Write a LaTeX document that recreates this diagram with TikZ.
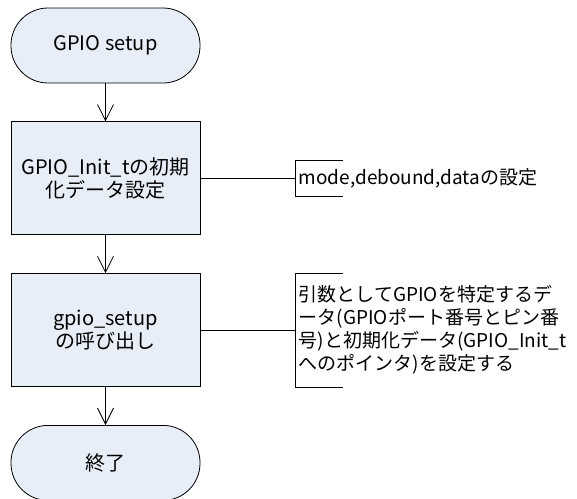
\documentclass[tikz,border=0pt]{standalone}
\usepackage{fontspec}
\setmainfont{Noto Sans CJK JP}
\usetikzlibrary{positioning,arrows.meta}
\definecolor{boxfill}{RGB}{232,238,247}
\tikzset{
  every picture/.style={
    line width=0.8pt
  },
  terminal/.style={draw, fill=boxfill, rounded corners=37pt, minimum width=189pt,
    minimum height=75pt, align=center, font=\fontsize{20}{23}\selectfont},
  process/.style={draw, fill=boxfill, minimum width=189pt, minimum height=113pt,
    align=center, font=\fontsize{20}{23}\selectfont},
  note/.style={align=left, inner xsep=3pt, font=\fontsize{19}{23}\selectfont},
  flow/.style={-{Straight Barb[length=16pt,width=16pt]}}
}
\begin{document}
\begin{tikzpicture}
  \useasboundingbox (0,0) rectangle (577pt,-498pt);
  \node[terminal] (setup) at (105.5pt,-45.5pt) {GPIO setup};
  \node[process, below=38pt of setup] (init) {GPIO\_Init\_tの初期\\化データ設定};
  \node[process, below=38pt of init] (call) {gpio\_setup\\の呼び出し};
  \node[terminal, below=38pt of call] (done) {終了};

  \node[note, right=95pt of init, minimum height=36pt] (mode) {mode,debound,dataの設定};
  \node[note, right=95pt of call, minimum height=113pt] (args) {引数としてGPIOを特定するデ\\ータ(GPIOポート番号とピン番\\号)と初期化データ(GPIO\_Init\_t\\へのポインタ)を設定する};

  \draw [flow] (setup) -- (init);
  \draw [flow] (init) -- (call);
  \draw [flow] (call) -- (done);
  \draw (init) -- (mode);
  \draw (call) -- (args);
  % brackets for the notes
  \foreach \n in {mode,args}
    \draw ([xshift=48pt]\n.north west) -- (\n.north west) -- (\n.south west) -- ([xshift=48pt]\n.south west);
\end{tikzpicture}
\end{document}
